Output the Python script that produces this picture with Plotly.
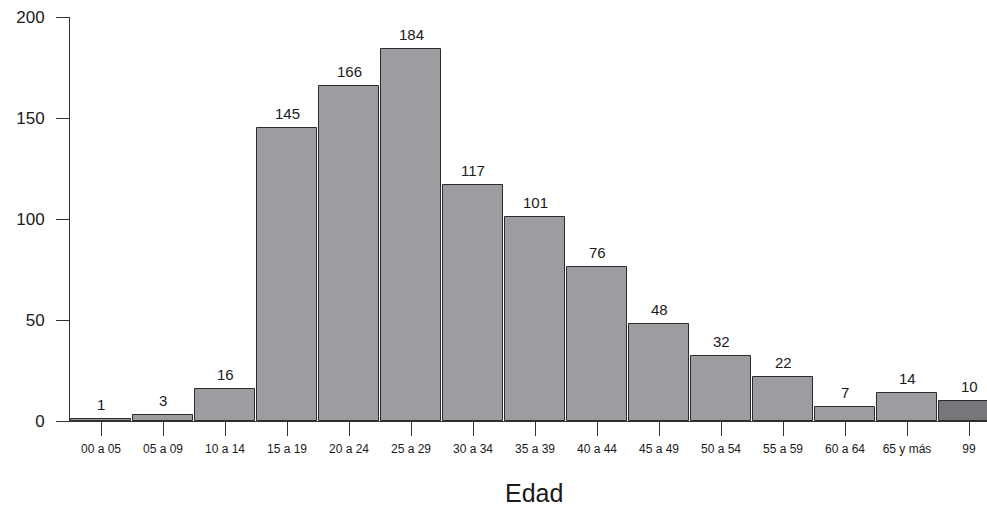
import plotly.graph_objects as go

# Age groups and case counts
grupos = ["00 a 05", "05 a 09", "10 a 14", "15 a 19", "20 a 24", "25 a 29", "30 a 34",
          "35 a 39", "40 a 44", "45 a 49", "50 a 54", "55 a 59", "60 a 64", "65 y más", "99"]
casos = [1, 3, 16, 145, 166, 184, 117, 101, 76, 48, 32, 22, 7, 14, 10]

relleno = ["#9c9da0"] * (len(grupos) - 1) + ["#76777a"]
posiciones = list(range(len(grupos)))

fig = go.Figure(
    go.Bar(
        x=posiciones,
        y=casos,
        marker=dict(color=relleno, line=dict(color="#2b2b2b", width=1)),
        width=0.97,
        hoverinfo="x+y",
    )
)

# Value labels above each bar
for xi, v in zip(posiciones, casos):
    fig.add_annotation(
        x=xi, y=v, text=str(v), showarrow=False,
        yanchor="bottom", yshift=4,
        font=dict(size=15, color="#1a1a1a"),
    )

# Axis title placed below the tick labels
fig.add_annotation(
    xref="paper", yref="paper", x=0.506, y=-0.178,
    text="Edad", showarrow=False, xanchor="center", yanchor="middle",
    borderpad=0,
    font=dict(size=25, color="#1a1a1a"),
)

fig.update_layout(
    width=987,
    height=506,
    margin=dict(l=70, r=0, t=17, b=85),
    paper_bgcolor="white",
    plot_bgcolor="white",
    font=dict(family="Liberation Sans, Arial, sans-serif", color="#1a1a1a"),
    showlegend=False,
    bargap=0,
)

fig.update_xaxes(
    range=[-0.5, 14.29],
    automargin=False,
    tickmode="array",
    tickvals=posiciones,
    ticktext=grupos,
    tickfont=dict(size=12),
    ticks="outside",
    ticklen=14,
    tickcolor="#333333",
    showline=True,
    linecolor="#333333",
    linewidth=1,
    showgrid=False,
    zeroline=False,
    ticklabelstandoff=3,
)

fig.update_yaxes(
    range=[0, 200],
    automargin=False,
    tickvals=[0, 50, 100, 150, 200],
    tickfont=dict(size=17),
    ticks="outside",
    ticklen=13,
    tickcolor="#333333",
    showline=True,
    linecolor="#333333",
    linewidth=1,
    showgrid=False,
    zeroline=False,
    ticklabelstandoff=8,
)

fig.write_html("out.html")
